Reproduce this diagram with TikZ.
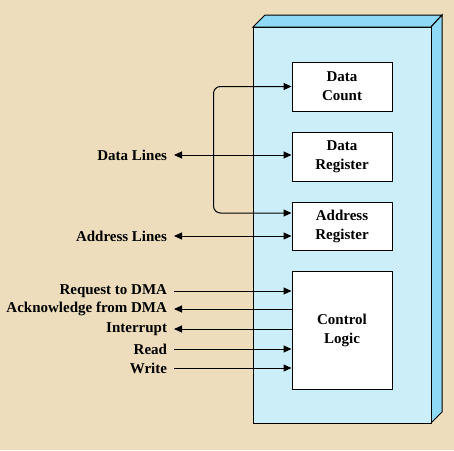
\documentclass[tikz,border=0pt]{standalone}
\usepackage{fontspec}
\setmainfont{Liberation Serif}
\usetikzlibrary{arrows.meta}
\definecolor{paper}{HTML}{EDDDBD}
\definecolor{front}{HTML}{CCEEF9}
\definecolor{side}{HTML}{8DD9F6}

\begin{document}
\begin{tikzpicture}[x=1pt,y=-1pt,font=\fontsize{15}{19}\selectfont\bfseries,
	>={Triangle[length=8pt,width=7pt]}, line width=1pt]
		\tikzstyle{reg}=[draw,fill=white,minimum width=100pt,align=center,inner sep=0pt]
		\tikzstyle{sig}=[anchor=east,inner sep=0pt,outer sep=0pt]
		\tikzstyle{wire}=[draw,shorten <=7pt]

		% background and the 3d block
		\fill[paper] (0,0) rectangle (454,450);
		\filldraw[fill=side] (253,27) -- (265,15) -- (442,15) -- (431,27) -- cycle;
		\filldraw[fill=side] (431,27) -- (442,15) -- (442,412) -- (431,423) -- cycle;
		\filldraw[fill=front] (253,27) rectangle (431,423);

		\node (dc) at (342,86.5) [reg,minimum height=49pt] {Data\\Count};
		\node (dr) at (342,156.5) [reg,minimum height=49pt] {Data\\Register};
		\node (ar) at (342,226) [reg,minimum height=48pt] {Address\\Register};
		\node (cl) at (342,330) [reg,minimum height=118pt] {Control\\Logic};

		\node (dl) at (167,155) [sig] {Data Lines};
		\node (al) at (167,236) [sig] {Address Lines};
		\node (req) at (167,291) [sig] {Request to DMA};
		\node (ack) at (167,309) [sig] {Acknowledge from DMA};
		\node (int) at (167,329) [sig] {Interrupt};
		\node (rd) at (167,349) [sig] {Read};
		\node (wr) at (167,368) [sig] {Write};

		\path [wire, <->] (dl.east) -- (dl.east -| dr.west);
		\path [wire, <->] (al.east) -- (al.east -| ar.west);
		\coordinate (bus) at ([yshift=13pt]ar.west);
		\path [<->, draw, rounded corners=7pt] (bus) -- ++(-78,0) |- (dc.west);

		\path [wire, ->] (req.east) -- (req.east -| cl.west);
		\path [wire, <-] (ack.east) -- (ack.east -| cl.west);
		\path [wire, <-] (int.east) -- (int.east -| cl.west);
		\path [wire, ->] (rd.east) -- (rd.east -| cl.west);
		\path [wire, ->] (wr.east) -- (wr.east -| cl.west);
	\end{tikzpicture}
\end{document}
